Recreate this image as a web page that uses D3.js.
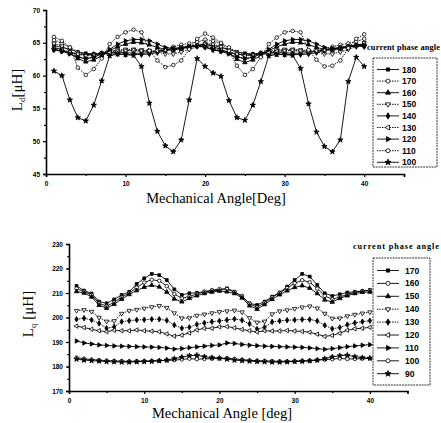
<!DOCTYPE html>
<html><head><meta charset="utf-8">
<script src="https://cdn.jsdelivr.net/npm/d3@7"></script>
<style>body{margin:0;background:#fff}svg{display:block}</style>
</head><body>
<script>
const angles = d3.range(1, 41);

// Top chart: Ld [uH], current phase angle series
const ldLabels = ["180","170","160","150","140","130","120","110","100"];
const ld180 = [64.6,64.3,64.0,63.6,63.4,63.3,63.4,63.5,63.5,63.5,63.4,63.4,63.5,63.7,63.9,64.1,64.3,64.5,64.6,64.7,64.6,64.3,64.0,63.6,63.4,63.3,63.4,63.5,63.5,63.5,63.4,63.4,63.5,63.7,63.9,64.1,64.3,64.5,64.7,64.8];
const ld170 = [65.4,64.9,64.3,63.6,63.2,63.3,63.5,63.6,63.7,63.8,63.8,63.7,63.6,63.8,64.1,64.4,64.7,64.9,65.1,65.5,65.3,64.9,64.3,63.6,63.2,63.2,63.5,63.6,63.7,63.8,63.8,63.7,63.6,63.8,64.1,64.4,64.7,64.9,65.2,65.6];
const ld160 = [64.3,64.0,63.4,62.6,62.1,62.4,63.0,63.8,64.4,64.8,65.1,65.0,64.7,64.3,64.0,63.9,64.1,64.3,64.6,64.9,64.4,64.0,63.4,62.5,62.0,62.4,63.0,63.8,64.4,64.8,65.1,65.0,64.7,64.3,64.0,63.9,64.1,64.3,64.6,64.8];
const ld150 = [64.9,64.5,63.8,62.9,62.5,62.8,63.3,63.7,63.9,64.0,64.0,63.9,63.8,63.6,63.3,63.3,63.6,64.0,64.4,64.9,64.8,64.4,63.8,63.0,62.5,62.8,63.3,63.7,63.9,64.0,64.0,63.9,63.8,63.6,63.3,63.3,63.6,64.0,64.4,65.0];
const ld140 = [63.9,63.7,63.5,63.3,63.2,63.2,63.3,63.3,63.3,63.2,63.2,63.2,63.3,63.5,63.8,64.0,64.2,64.4,64.5,64.3,63.9,63.7,63.5,63.3,63.1,63.2,63.3,63.3,63.3,63.2,63.2,63.2,63.3,63.5,63.8,64.0,64.2,64.4,64.5,64.4];
const ld130 = [64.1,63.9,63.6,63.3,63.0,63.1,63.3,63.5,63.7,63.8,63.9,63.8,63.7,63.8,63.9,64.1,64.3,64.5,64.6,64.6,64.2,63.9,63.6,63.3,63.0,63.1,63.3,63.5,63.7,63.8,63.9,63.8,63.7,63.8,63.9,64.1,64.3,64.5,64.6,64.7];
const ld120 = [64.0,63.7,63.3,62.8,62.6,62.8,63.3,64.0,64.8,65.3,65.5,65.5,65.3,64.8,64.3,64.1,64.2,64.4,64.5,64.4,64.0,63.7,63.3,62.8,62.6,62.8,63.3,64.0,64.8,65.3,65.5,65.5,65.3,64.8,64.3,64.1,64.2,64.4,64.6,64.6];
const ld110 = [65.9,65.3,64.3,61.2,60.1,61.0,62.6,64.8,65.9,66.6,67.0,66.6,63.8,62.3,61.3,61.6,62.3,64.0,65.6,66.4,65.8,65.0,63.8,61.5,60.1,61.0,62.8,64.8,65.8,66.6,66.8,66.6,63.9,62.4,61.4,61.5,62.3,64.2,65.6,66.3];
const ld100 = [60.7,60.0,56.3,53.6,53.1,55.5,59.2,63.0,63.3,63.2,63.1,61.4,55.8,51.5,49.3,48.4,50.2,56.3,62.6,61.4,60.4,59.9,56.2,53.6,53.2,55.5,59.1,63.0,63.2,63.2,63.1,61.1,55.7,51.4,49.2,48.4,50.2,59.1,62.8,61.4];
const ldTicksY = [45,50,55,60,65,70];
const xTicks = [0,10,20,30,40];

// Bottom chart: Lq [uH]
const lqLabels = ["170","160","150","140","130","120","110","100","90"];
const lq170 = [212.9,211.0,209.8,206.5,205.8,207.4,209.2,210.5,213.7,216.0,217.8,217.3,215.3,211.5,209.2,209.9,210.1,210.5,210.8,211.2,211.9,210.5,208.5,205.8,205.1,206.5,208.5,210.2,212.6,215.3,217.8,216.7,213.3,209.9,208.8,209.5,210.2,210.5,210.8,211.2];
const lq160 = [211.8,210.6,209.2,205.8,204.6,206.2,208.3,210.0,212.2,214.3,215.4,215.0,212.8,209.6,207.8,208.6,209.6,210.5,211.2,211.6,211.6,210.4,208.8,205.6,204.2,206.0,208.2,210.0,212.0,214.0,215.2,214.4,211.8,208.8,207.4,208.4,209.4,210.3,210.8,211.0];
const lq150 = [210.6,210.0,208.4,205.0,203.8,205.4,207.5,209.4,211.0,212.4,213.2,212.5,210.4,207.6,206.4,207.8,208.9,209.8,210.4,210.8,210.5,209.8,208.0,204.8,203.4,205.3,207.4,209.3,210.9,212.3,213.0,212.0,209.8,207.2,206.3,207.8,208.9,209.8,210.3,210.4];
const lq140 = [202.8,203.1,202.4,200.0,198.4,198.6,201.6,202.8,203.2,203.7,204.3,204.8,204.0,201.8,199.7,199.8,200.8,201.3,201.8,202.3,202.6,202.9,202.2,199.8,198.0,198.4,201.4,202.6,203.0,203.6,204.2,204.6,203.8,201.6,199.6,199.7,200.6,201.2,201.7,202.2];
const lq130 = [199.3,199.7,199.0,197.6,195.6,196.2,198.3,198.7,199.0,199.1,199.3,199.3,198.8,196.9,195.6,196.0,197.2,197.8,198.3,198.6,199.0,199.4,198.9,197.4,195.3,196.0,198.2,198.6,198.9,199.0,199.2,199.2,198.6,196.8,195.4,195.9,197.1,197.8,198.3,198.7];
const lq120 = [196.5,195.9,195.2,194.6,194.2,194.8,194.6,194.6,194.9,194.6,194.4,194.2,193.3,192.4,192.8,193.7,194.9,195.6,195.6,196.2,196.3,195.8,195.1,194.6,194.1,194.6,194.5,194.5,194.7,194.5,194.3,194.0,193.2,192.3,192.7,193.6,194.8,195.4,195.6,196.0];
const lq110 = [190.4,189.6,189.2,188.8,188.6,188.4,188.3,188.2,188.1,188.0,187.9,187.8,187.5,187.1,187.3,187.7,188.0,188.3,188.6,188.8,189.6,189.4,189.0,188.7,188.5,188.3,188.2,188.1,188.0,187.9,187.8,187.6,187.3,187.0,187.3,187.7,188.1,188.4,188.7,188.9];
const lq100 = [183.6,183.2,182.8,182.6,182.4,182.3,182.2,182.1,182.2,182.2,182.3,182.4,182.5,182.6,182.9,183.2,183.0,183.1,183.2,183.3,183.4,183.1,182.8,182.5,182.4,182.3,182.2,182.1,182.1,182.2,182.3,182.4,182.6,182.8,183.0,183.3,183.1,183.1,183.2,183.3];
const lq90 = [183.0,182.6,182.4,182.2,182.0,181.9,181.8,181.8,181.9,182.0,182.1,182.3,182.6,183.2,183.8,184.4,184.6,184.0,183.6,183.4,183.0,182.6,182.4,182.2,182.0,181.9,181.8,181.8,181.9,182.0,182.1,182.3,182.6,183.2,183.9,184.4,184.6,184.0,183.6,183.4];
const lqTicksY = [170,180,190,200,210,220,230];

// marker styles per legend slot
const shapes = ["square","circle","triangle","down","diamond","left","right","circle","star"];
const filled = [true,false,true,false,true,false,true,false,true];

const svg = d3.select("body").append("svg").attr("width",441).attr("height",423);

function marker(g, shape, fill, size){
  let type = d3.symbolTriangle, rot = 0, s = size*0.85;
  if (shape==="square") { type = d3.symbolSquare; s = size*0.8; }
  else if (shape==="circle") { type = d3.symbolCircle; s = size; }
  else if (shape==="diamond") { type = d3.symbolDiamond; s = size*0.9; }
  else if (shape==="star") { type = d3.symbolStar; s = size*0.9; }
  else if (shape==="down") rot = 180;
  else if (shape==="left") rot = -90;
  else if (shape==="right") rot = 90;
  g.append("path").attr("d", d3.symbol().type(type).size(s)())
    .attr("transform", (g.attr("data-t")||"") + (rot? ` rotate(${rot})` : ""))
    .attr("fill", fill ? "#000" : "#fff").attr("stroke","#000").attr("stroke-width",0.8);
}

function chart(cfg){
  const x = d3.scaleLinear().domain([0,45]).range(cfg.xr);
  const y = d3.scaleLinear().domain(cfg.yd).range(cfg.yr);
  const g = svg.append("g");
  // axes
  const ax = g.append("g").attr("transform",`translate(0,${cfg.yr[0]})`)
    .call(d3.axisBottom(x).tickValues(xTicks).tickSize(3).tickFormat(d3.format("d")));
  g.append("g").attr("transform",`translate(0,${cfg.yr[0]})`)
    .call(d3.axisBottom(x).tickValues([5,15,25,35,45]).tickSize(2).tickFormat(""))
    .call(s=>s.select(".domain").remove());
  const ay = g.append("g").attr("transform",`translate(${cfg.xr[0]},0)`)
    .call(d3.axisLeft(y).tickValues(cfg.yTicks).tickSize(3).tickFormat(d3.format("d")));
  g.append("g").attr("transform",`translate(${cfg.xr[0]},0)`)
    .call(d3.axisLeft(y).tickValues(cfg.yMinor).tickSize(2).tickFormat(""))
    .call(s=>s.select(".domain").remove());
  g.selectAll(".domain").attr("stroke-width",1.6).attr("stroke","#000");
  g.selectAll(".tick line").attr("stroke","#000").attr("stroke-width",1.2);
  g.selectAll(".tick text").attr("font-family","Liberation Sans, Arial, sans-serif")
    .attr("font-weight","bold").attr("font-size",6.5).attr("fill","#000");
  ax.selectAll(".tick text").attr("dy","0.9em");
  // series
  const line = d3.line().x((d,i)=>x(angles[i])).y(d=>y(d));
  cfg.series.forEach((vals, k) => {
    const sg = g.append("g");
    sg.append("path").attr("d", line(vals)).attr("fill","none").attr("stroke","#000")
      .attr("stroke-width",0.9).attr("stroke-dasharray", cfg.dotted[k] ? "1.5,1" : null);
    vals.forEach((v,i) => {
      const mg = sg.append("g").attr("data-t",`translate(${x(angles[i])},${y(v)})`);
      marker(mg, shapes[k], filled[k], 10);
    });
  });
  // x label
  g.append("text").attr("x",cfg.xl[0]).attr("y",cfg.xl[1]).attr("text-anchor","middle")
    .attr("font-family","Liberation Serif, Times New Roman, serif").attr("font-size",14.5)
    .text(cfg.xLabel);
  // y label
  const yl = g.append("text").attr("transform",`translate(${cfg.yl[0]},${cfg.yl[1]}) rotate(-90)`)
    .attr("text-anchor","middle").attr("font-family","Liberation Serif, Times New Roman, serif")
    .attr("font-size",15);
  yl.append("tspan").text("L");
  yl.append("tspan").attr("font-size",9).attr("dy",3).text(cfg.sub);
  yl.append("tspan").attr("dy",-3).text(cfg.yUnit);
  // legend
  const L = cfg.legend;
  g.append("text").attr("x",L.tx).attr("y",L.ty).attr("font-family","Liberation Serif, Times New Roman, serif")
    .attr("font-weight","bold").attr("font-size",8.3).attr("textLength",L.tw).text("current phase angle");
  g.append("rect").attr("x",L.x).attr("y",L.y).attr("width",L.w).attr("height",L.h)
    .attr("fill","#fff").attr("stroke","#000").attr("stroke-width",0.8).attr("stroke-dasharray","2,0.8");
  cfg.labels.forEach((lab,k)=>{
    const yy = L.y0 + k*L.dy;
    g.append("line").attr("x1",L.x+4).attr("x2",L.x+26).attr("y1",yy).attr("y2",yy)
      .attr("stroke","#000").attr("stroke-width",0.9).attr("stroke-dasharray", cfg.dotted[k] ? "1.5,1" : null);
    const mg = g.append("g").attr("data-t",`translate(${L.x+15},${yy})`);
    marker(mg, shapes[k], filled[k], 13);
    g.append("text").attr("x",L.lx).attr("y",yy+3).attr("font-family","Liberation Sans, Arial, sans-serif")
      .attr("font-weight","bold").attr("font-size",8.5).text(lab);
  });
}

chart({
  xr:[46,404], yd:[45,70], yr:[174,10], yTicks: ldTicksY,
  yMinor: d3.range(47.5,70,5),
  series:[ld180,ld170,ld160,ld150,ld140,ld130,ld120,ld110,ld100],
  dotted:[false,true,false,true,false,true,false,true,false],
  labels: ldLabels,
  xLabel:"Mechanical Angle[Deg]", xl:[216,203],
  sub:"d", yUnit:"[μH]", yl:[22,90],
  legend:{tx:367,ty:50,tw:73,x:373,y:58,w:64,h:109,y0:69.5,dy:11.6,lx:402}
});

chart({
  xr:[69,407.5], yd:[170,230], yr:[391,244], yTicks: lqTicksY,
  yMinor: d3.range(175,230,5),
  series:[lq170,lq160,lq150,lq140,lq130,lq120,lq110,lq100,lq90],
  dotted:[false,false,false,true,true,false,false,false,false],
  labels: lqLabels,
  xLabel:"Mechanical Angle [deg]", xl:[222,418],
  sub:"q", yUnit:" [μH]", yl:[33,314],
  legend:{tx:353,ty:249,tw:86,x:373,y:258,w:57,h:127,y0:270.5,dy:12.9,lx:405}
});
</script>
</body></html>
